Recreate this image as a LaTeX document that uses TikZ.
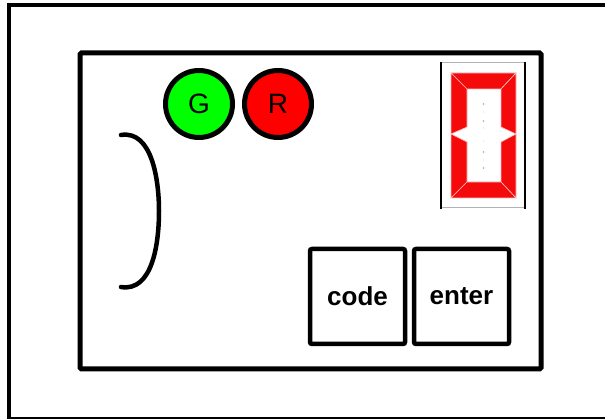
\documentclass[tikz,border=0pt]{standalone}
\usepackage{fontspec}
\setmainfont{Liberation Sans}
\definecolor{ledgreen}{HTML}{00FF00}
\definecolor{ledred}{HTML}{FF0000}
\definecolor{segred}{HTML}{F40A0A}
\begin{document}
\begin{tikzpicture}[x=1pt,y=-1pt,
  frame/.style={draw=black,line width=4.6pt},
  lamp/.style={circle,draw=black,line width=5pt,minimum size=67pt,inner sep=0pt,font=\fontsize{28}{32}\selectfont},
  keybox/.style={rectangle,draw=black,line width=4.5pt,rounded corners=2pt,minimum width=95pt,minimum height=95pt,inner sep=0pt,font=\fontsize{26}{30}\selectfont\bfseries},
  seg/.style={fill=segred,draw=red!25!white,line width=0.6pt,line join=miter},
  dotc/.style={fill=gray!70,draw=none}]
\useasboundingbox (0,0) rectangle (605,419);
\begin{scope}
\clip (0,0) rectangle (605,419);
% outer housing
\draw[frame] (9,5) rectangle (620,419);
\end{scope}
% panel
\draw[frame,rounded corners=1.5pt,line width=5pt] (80,53) rectangle (541,369);
% lamps
\node[lamp,fill=ledgreen] (G) at (199,104) {G};
\node[lamp,fill=ledred] (R) at (278,104) {R};
% bracket (slot)
\draw[line width=4.5pt,line cap=round] (121,135) .. controls (152,130) and (159,180) .. (159,211) .. controls (159,245) and (152,292) .. (121,287);
% keys
\node[keybox] (code) at (357.5,296.5) {code};
\node[keybox] (enter) at (461.5,296.5) {enter};
% seven-segment display
\coordinate (d1) at (441,63);
\coordinate (d2) at (525,208);
\draw[gray!60,line width=1pt] (d1) rectangle (d2);
\draw[black,line width=2.8pt] (441,62) -- (441,209) (525,62) -- (525,209);
\fill[seg] (451,73) -- (516,73) -- (501,89) -- (467,89) -- cycle;
\fill[seg] (451,73) -- (467,89) -- (467,127) -- (451,134) -- cycle;
\fill[seg] (451,134) -- (467,142) -- (467,182) -- (451,198) -- cycle;
\fill[seg] (516,73) -- (501,89) -- (501,127) -- (516,134) -- cycle;
\fill[seg] (516,134) -- (501,142) -- (501,182) -- (516,198) -- cycle;
\fill[seg] (451,198) -- (467,182) -- (501,182) -- (516,198) -- cycle;
\foreach \yy in {104,121,152,168} \fill[dotc] (483.5,\yy) circle (0.9pt);
\foreach \yy in {112,128,141,160} \fill[gray!30] (483.5,\yy) circle (0.6pt);
\end{tikzpicture}
\end{document}
